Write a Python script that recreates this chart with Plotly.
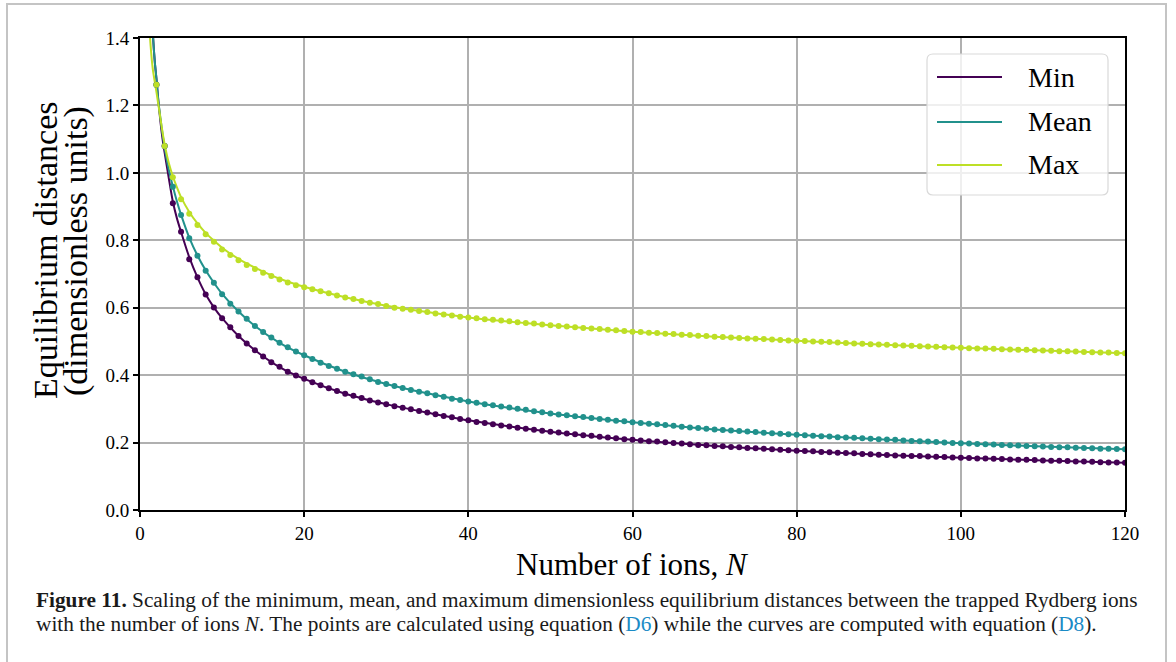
import plotly.graph_objects as go

# ---------------- data ----------------
series_names = ["Min", "Mean", "Max"]
series_colors = ["#440154", "#21918c", "#bddf26"]

# points (equation D6): one per number of ions N = 2 .. 120
n_points = list(range(2, 121))

min_points = [
    1.261, 1.080, 0.910, 0.825, 0.744, 0.690, 0.639, 0.601, 0.569, 0.542,
    0.516, 0.494, 0.474, 0.455, 0.438, 0.425, 0.410, 0.399, 0.389, 0.379,
    0.370, 0.361, 0.353, 0.345, 0.339, 0.332, 0.325, 0.319, 0.314, 0.308,
    0.303, 0.299, 0.294, 0.289, 0.284, 0.279, 0.275, 0.270, 0.266,
    0.261, 0.258, 0.254, 0.251, 0.248, 0.244, 0.241, 0.238, 0.235, 0.232,
    0.230, 0.227, 0.225, 0.222, 0.220, 0.217, 0.215, 0.213, 0.210, 0.208,
    0.206, 0.204, 0.203, 0.201, 0.199, 0.197, 0.195, 0.193, 0.192, 0.190,
    0.189, 0.187, 0.186, 0.184, 0.183, 0.182, 0.180, 0.179, 0.177, 0.176,
    0.175, 0.174, 0.172, 0.171, 0.170, 0.169, 0.168, 0.166, 0.165, 0.164,
    0.163, 0.162, 0.161, 0.160, 0.160, 0.159, 0.158, 0.157, 0.156, 0.155,
    0.154, 0.153, 0.153, 0.152, 0.151, 0.150, 0.149, 0.149, 0.148, 0.147,
    0.146, 0.146, 0.145, 0.144, 0.144, 0.143, 0.142, 0.141, 0.141, 0.140,
]
mean_points = [
    1.261, 1.080, 0.959, 0.875, 0.806, 0.754, 0.710, 0.674, 0.640, 0.612,
    0.589, 0.567, 0.546, 0.528, 0.512, 0.496, 0.483, 0.470, 0.459, 0.448,
    0.437, 0.427, 0.419, 0.410, 0.403, 0.396, 0.388, 0.380, 0.374, 0.368,
    0.362, 0.356, 0.351, 0.346, 0.340, 0.336, 0.330, 0.326, 0.322,
    0.318, 0.314, 0.311, 0.307, 0.304, 0.300, 0.297, 0.293, 0.290, 0.286,
    0.283, 0.281, 0.278, 0.276, 0.273, 0.270, 0.268, 0.265, 0.263, 0.260,
    0.258, 0.256, 0.254, 0.252, 0.250, 0.247, 0.245, 0.243, 0.241, 0.239,
    0.237, 0.236, 0.234, 0.233, 0.231, 0.229, 0.228, 0.226, 0.225, 0.223,
    0.222, 0.220, 0.219, 0.218, 0.216, 0.215, 0.214, 0.213, 0.211, 0.210,
    0.209, 0.208, 0.206, 0.205, 0.204, 0.203, 0.202, 0.200, 0.199, 0.198,
    0.197, 0.196, 0.195, 0.194, 0.193, 0.192, 0.191, 0.190, 0.189, 0.188,
    0.187, 0.186, 0.186, 0.185, 0.184, 0.183, 0.182, 0.182, 0.181, 0.180,
]
max_points = [
    1.261, 1.080, 0.987, 0.922, 0.879, 0.845, 0.818, 0.796, 0.773, 0.756,
    0.741, 0.727, 0.715, 0.704, 0.694, 0.684, 0.675, 0.667, 0.661, 0.655,
    0.649, 0.643, 0.636, 0.630, 0.626, 0.620, 0.615, 0.611, 0.605, 0.600,
    0.597, 0.594, 0.590, 0.587, 0.583, 0.580, 0.577, 0.573, 0.571,
    0.569, 0.566, 0.564, 0.562, 0.560, 0.557, 0.555, 0.553, 0.550, 0.548,
    0.546, 0.544, 0.542, 0.540, 0.538, 0.537, 0.535, 0.533, 0.531, 0.529,
    0.528, 0.526, 0.525, 0.523, 0.522, 0.520, 0.519, 0.517, 0.516, 0.514,
    0.513, 0.512, 0.510, 0.509, 0.508, 0.507, 0.506, 0.504, 0.503, 0.502,
    0.501, 0.500, 0.499, 0.498, 0.497, 0.495, 0.494, 0.493, 0.492, 0.491,
    0.490, 0.489, 0.488, 0.487, 0.486, 0.485, 0.484, 0.483, 0.482, 0.481,
    0.480, 0.479, 0.479, 0.478, 0.477, 0.476, 0.475, 0.475, 0.474, 0.473,
    0.472, 0.471, 0.471, 0.470, 0.469, 0.468, 0.467, 0.467, 0.466, 0.465,
]

# curves (equation D8), read at these N
n_curve = [1.1, 1.2, 1.3, 1.4, 1.5, 1.6, 1.8, 2.0, 2.25, 2.5, 2.75, 3.0, 3.5,
           4, 4.5, 5, 6, 7, 8, 9, 10, 12, 14, 17, 20, 25, 30, 35, 40, 50,
           60, 70, 80, 90, 100, 110, 120]
min_curve = [1.85, 1.72, 1.61, 1.52, 1.45, 1.40, 1.33, 1.28, 1.21, 1.15,
             1.10, 1.06, 0.985, 0.915, 0.865, 0.825, 0.750, 0.690, 0.640,
             0.601, 0.569, 0.516, 0.474, 0.424, 0.389, 0.345, 0.314, 0.289,
             0.266, 0.232, 0.208, 0.190, 0.176, 0.164, 0.155, 0.147, 0.140]
mean_curve = [1.80, 1.69, 1.59, 1.51, 1.45, 1.40, 1.33, 1.28, 1.21, 1.16,
              1.115, 1.075, 1.01, 0.960, 0.915, 0.876, 0.808, 0.755, 0.711,
              0.674, 0.641, 0.589, 0.546, 0.496, 0.459, 0.410, 0.374, 0.346,
              0.322, 0.286, 0.260, 0.239, 0.223, 0.210, 0.198, 0.188, 0.180]
max_curve = [1.46, 1.41, 1.375, 1.345, 1.32, 1.30, 1.27, 1.24, 1.20, 1.16,
             1.12, 1.085, 1.03, 0.99, 0.957, 0.928, 0.884, 0.850, 0.822,
             0.799, 0.778, 0.745, 0.719, 0.686, 0.662, 0.631, 0.606, 0.587,
             0.571, 0.548, 0.529, 0.514, 0.502, 0.491, 0.481, 0.473, 0.465]

x_ticks = [0, 20, 40, 60, 80, 100, 120]
y_ticks = [0.0, 0.2, 0.4, 0.6, 0.8, 1.0, 1.2, 1.4]

x_title = "Number of ions, <i>N</i>"
y_title_lines = ["Equilibrium distances", "(dimensionless units)"]
caption_1 = ("<b>Figure 11.</b> Scaling of the minimum, mean, and maximum dimensionless "
             "equilibrium distances between the trapped Rydberg ions")
caption_2 = ("with the number of ions <i>N</i>. The points are calculated using equation "
             "(<span style='color:#1a8bc6'>D6</span>) while the curves are computed with "
             "equation (<span style='color:#1a8bc6'>D8</span>).")

# ---------------- layout geometry (screen pixels) ----------------
W, H = 1176, 662
L, R, T, B = 140, 1125, 38, 510
PW, PH = R - L, B - T


def px(xp):
    return (xp - L) / PW


def py(yp):
    return (B - yp) / PH


SERIF = "Liberation Serif"

fig = go.Figure()

points = [min_points, mean_points, max_points]
curves = [min_curve, mean_curve, max_curve]

for name, col, cv in zip(series_names, series_colors, curves):
    fig.add_trace(go.Scatter(
        x=n_curve, y=cv, mode="lines", name=name,
        line=dict(color=col, width=2, shape="spline", smoothing=0.8),
        showlegend=False, hoverinfo="skip"))

for name, col, pv in zip(series_names, series_colors, points):
    fig.add_trace(go.Scatter(
        x=n_points, y=pv, mode="markers", name=name + " (points)",
        marker=dict(color=col, size=6, line=dict(width=0)),
        showlegend=False))

tick_font = dict(family=SERIF, size=19, color="black")

fig.update_layout(
    xaxis=dict(
        range=[0, 120], tickmode="array", tickvals=x_ticks,
        ticktext=[str(v) for v in x_ticks],
        showline=True, linecolor="black", linewidth=2, mirror=True,
        ticks="outside", ticklen=5, tickwidth=1.5, tickcolor="black",
        showgrid=True, gridcolor="#b0b0b0", gridwidth=1.5, zeroline=False,
        tickfont=tick_font,
    ),
    yaxis=dict(
        range=[0, 1.4], tickmode="array", tickvals=y_ticks,
        ticktext=[f"{v:.1f}" for v in y_ticks],
        showline=True, linecolor="black", linewidth=2, mirror=True,
        ticks="outside", ticklen=5, tickwidth=1.5, tickcolor="black",
        showgrid=True, gridcolor="#b0b0b0", gridwidth=1.5, zeroline=False,
        tickfont=tick_font,
    ),
)

shapes = []
annotations = []

# x-axis title
annotations.append(dict(xref="paper", yref="paper", x=0.5, y=py(564),
                        text=x_title, showarrow=False,
                        xanchor="center", yanchor="middle",
                        font=dict(family=SERIF, size=31, color="black")))

# y-axis title, two rotated lines
for text, xc in zip(y_title_lines, [45, 76]):
    annotations.append(dict(xref="paper", yref="paper", x=px(xc), y=py(251),
                            text=text, showarrow=False, textangle=-90,
                            xanchor="center", yanchor="middle",
                            font=dict(family=SERIF, size=34, color="black")))

# outer figure border
shapes.append(dict(type="rect", xref="paper", yref="paper",
                   x0=px(7), x1=px(1166), y0=py(664), y1=py(4),
                   line=dict(color="#c4c4c4", width=2), fillcolor="rgba(0,0,0,0)",
                   layer="below"))

# legend box (rounded)
lx0, lx1, ly0, ly1, r = 927, 1108, 54, 195, 6


def rounded_path(x0, x1, y0, y1, r):
    p = [
        f"M {px(x0 + r)},{py(y0)}",
        f"L {px(x1 - r)},{py(y0)}",
        f"Q {px(x1)},{py(y0)} {px(x1)},{py(y0 + r)}",
        f"L {px(x1)},{py(y1 - r)}",
        f"Q {px(x1)},{py(y1)} {px(x1 - r)},{py(y1)}",
        f"L {px(x0 + r)},{py(y1)}",
        f"Q {px(x0)},{py(y1)} {px(x0)},{py(y1 - r)}",
        f"L {px(x0)},{py(y0 + r)}",
        f"Q {px(x0)},{py(y0)} {px(x0 + r)},{py(y0)}",
        "Z",
    ]
    return " ".join(p)


shapes.append(dict(type="path", xref="paper", yref="paper",
                   path=rounded_path(lx0, lx1, ly0, ly1, r),
                   line=dict(color="#d9d9d9", width=1.2),
                   fillcolor="rgba(255,255,255,0.8)", layer="above"))

row_y = [77, 122, 165]
for name, col, yy in zip(series_names, series_colors, row_y):
    shapes.append(dict(type="line", xref="paper", yref="paper",
                       x0=px(937), x1=px(1002), y0=py(yy), y1=py(yy),
                       line=dict(color=col, width=2), layer="above"))
    annotations.append(dict(xref="paper", yref="paper", x=px(1026), y=py(yy),
                            text=name, showarrow=False, xanchor="left", yanchor="middle",
                            font=dict(family=SERIF, size=28, color="black")))

# caption
annotations.append(dict(xref="paper", yref="paper", x=px(34), y=py(600),
                        text=caption_1, showarrow=False, xanchor="left", yanchor="middle",
                        font=dict(family=SERIF, size=21.3, color="#1a1a1a")))
annotations.append(dict(xref="paper", yref="paper", x=px(34), y=py(624),
                        text=caption_2, showarrow=False, xanchor="left", yanchor="middle",
                        font=dict(family=SERIF, size=21.3, color="#1a1a1a")))

fig.update_layout(
    width=W, height=H,
    margin=dict(l=L, r=W - R, t=T, b=H - B, pad=0),
    paper_bgcolor="white", plot_bgcolor="white",
    font=dict(family=SERIF, size=20, color="black"),
    shapes=shapes, annotations=annotations,
    showlegend=False,
)

fig.write_html("out.html", config={"displayModeBar": False},
               post_script="document.body.style.margin='0px';")
